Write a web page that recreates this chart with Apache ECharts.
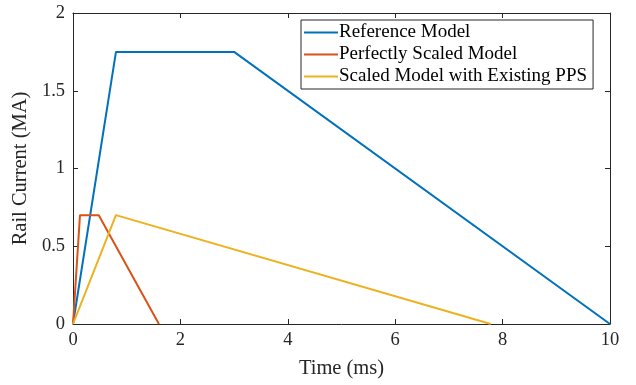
<!DOCTYPE html>
<html><head><meta charset="utf-8">
<script src="https://cdn.jsdelivr.net/npm/echarts@6/dist/echarts.min.js"></script>
<style>html,body{margin:0;padding:0;background:#fff}#c{width:636px;height:385px}</style>
</head><body><div id="c"></div>
<script>
const seriesNames = ["Reference Model", "Perfectly Scaled Model", "Scaled Model with Existing PPS"];
const refTime = [0, 0.8, 3, 10];
const refCurrent = [0, 1.75, 1.75, 0];
const perfTime = [0, 0.13, 0.48, 1.6];
const perfCurrent = [0, 0.7, 0.7, 0];
const ppsTime = [0, 0.8, 7.78];
const ppsCurrent = [0, 0.7, 0];
const colors = ["#0072BD", "#D95319", "#EDB120"];
const xTicks = [0, 2, 4, 6, 8, 10];
const yTicks = [0, 0.5, 1, 1.5, 2];

const font = "'Liberation Serif', 'DejaVu Serif', serif";
const ink = "#262626";
const zip = (a, b) => a.map((v, i) => [v, b[i]]);

const chart = echarts.init(document.getElementById('c'), null, {renderer: 'canvas'});
const axisCommon = {
  axisLine: {show: true, onZero: false, lineStyle: {color: ink, width: 1}},
  axisTick: {show: true, inside: true, length: 5, lineStyle: {color: ink}},
  splitLine: {show: false}
};
chart.setOption({
  animation: false,
  color: colors,
  grid: {left: 73, right: 26, top: 13, bottom: 61, containLabel: false},
  xAxis: [
    Object.assign({}, axisCommon, {
      type: 'value', min: 0, max: 10, interval: 2, position: 'bottom',
      name: 'Time (ms)', nameLocation: 'middle', nameGap: 34,
      nameTextStyle: {fontFamily: font, fontSize: 20.5, color: ink},
      axisLabel: {fontFamily: font, fontSize: 18.5, color: ink, margin: 7,
        formatter: v => xTicks.includes(v) ? String(v) : ''}
    }),
    Object.assign({}, axisCommon, {
      type: 'value', min: 0, max: 10, interval: 2, position: 'top',
      axisLabel: {show: false}
    })
  ],
  yAxis: [
    Object.assign({}, axisCommon, {
      type: 'value', min: 0, max: 2, interval: 0.5, position: 'left',
      name: 'Rail Current (MA)', nameLocation: 'middle', nameGap: 35,
      nameTextStyle: {fontFamily: font, fontSize: 20.5, color: ink},
      axisLabel: {fontFamily: font, fontSize: 18.5, color: ink, margin: 8,
        formatter: v => yTicks.includes(v) ? String(v) : ''}
    }),
    Object.assign({}, axisCommon, {
      type: 'value', min: 0, max: 2, interval: 0.5, position: 'right',
      axisLabel: {show: false}
    })
  ],
  legend: {
    orient: 'vertical', left: 301, top: 20,
    backgroundColor: '#fff', borderColor: ink, borderWidth: 1,
    padding: [3, 6, 3, 3], itemGap: 3,
    itemWidth: 34, itemHeight: 2,
    icon: 'rect',
    textStyle: {fontFamily: font, fontSize: 19, color: '#000', padding: [0, 0, 0, -4]},
    data: seriesNames
  },
  series: [
    {name: seriesNames[0], type: 'line', data: zip(refTime, refCurrent)},
    {name: seriesNames[1], type: 'line', data: zip(perfTime, perfCurrent)},
    {name: seriesNames[2], type: 'line', data: zip(ppsTime, ppsCurrent)}
  ].map(s => Object.assign(s, {showSymbol: false, symbol: 'none', lineStyle: {width: 2}, z: 2})),
});
</script></body></html>
